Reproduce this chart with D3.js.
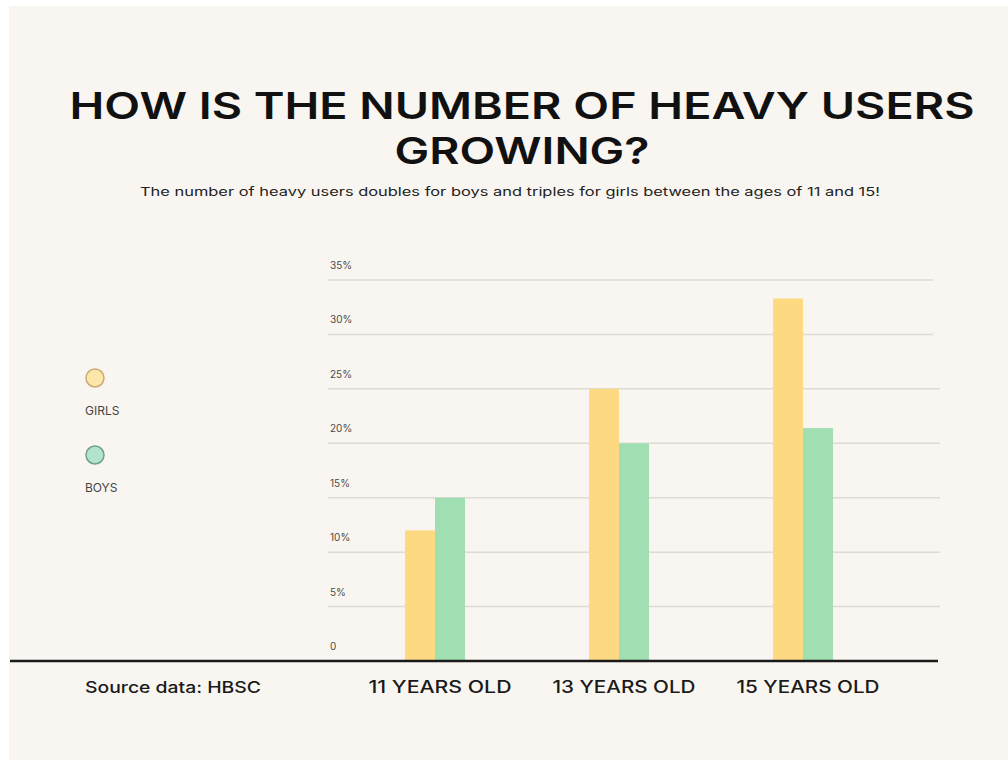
<!DOCTYPE html>
<html>
<head>
<meta charset="utf-8">
<script src="https://cdn.jsdelivr.net/npm/d3@7"></script>
<style>
  body { margin: 0; background: #ffffff; }
  svg text { font-family: "Inter", "Liberation Sans", Arial, sans-serif; }
</style>
</head>
<body>
<div id="chart"></div>
<script>
const width = 1008, height = 760;

// data
const ages = ["11 YEARS OLD", "13 YEARS OLD", "15 YEARS OLD"];
const series = ["GIRLS", "BOYS"];
const girls = [12, 25, 33.3];
const boys = [15, 20, 21.4];
const yTicks = [0, 5, 10, 15, 20, 25, 30, 35];
const yTickLabels = ["0", "5%", "10%", "15%", "20%", "25%", "30%", "35%"];

const colors = { GIRLS: "#fdd982", BOYS: "#a0dfb2" };
const strokes = { GIRLS: "#c9ac74", BOYS: "#6f9e92" };

const svg = d3.select("#chart")
    .append("svg")
    .attr("width", width)
    .attr("height", height);

// beige paper
svg.append("rect")
    .attr("x", 9).attr("y", 6)
    .attr("width", width - 9).attr("height", height - 6)
    .attr("fill", "#f9f6f1");

const y = d3.scaleLinear().domain([0, 35]).range([661, 280]);

const x = d3.scaleBand()
    .domain(ages)
    .range([343, 895])
    .padding(0);

const xInner = d3.scaleBand()
    .domain(series)
    .range([0, 60]);

// gridlines
svg.append("g")
    .selectAll("line")
    .data(yTicks.filter(d => d > 0))
    .enter().append("line")
    .attr("x1", 328)
    .attr("x2", d => d >= 30 ? 933 : 940)
    .attr("y1", d => y(d))
    .attr("y2", d => y(d))
    .attr("stroke", "#dedad4")
    .attr("stroke-width", 1.5);

// tick labels above the lines
svg.append("g")
    .selectAll("text")
    .data(yTicks)
    .enter().append("text")
    .attr("x", 330)
    .attr("y", d => y(d) - 11)
    .attr("font-size", 10)
    .attr("fill", "#4a4a4a")
    .text((d, i) => yTickLabels[i]);

// bars
const rows = ages.map((a, i) => ({ age: a, GIRLS: girls[i], BOYS: boys[i] }));

const groups = svg.append("g")
    .selectAll("g")
    .data(rows)
    .enter().append("g")
    .attr("transform", d => `translate(${x(d.age) + x.bandwidth() / 2 - 30},0)`);

groups.selectAll("rect")
    .data(d => series.map(s => ({ key: s, value: d[s] })))
    .enter().append("rect")
    .attr("x", d => xInner(d.key))
    .attr("width", xInner.bandwidth())
    .attr("y", d => y(d.value))
    .attr("height", d => y(0) - y(d.value))
    .attr("fill", d => colors[d.key]);

// baseline
svg.append("line")
    .attr("x1", 10).attr("x2", 938)
    .attr("y1", y(0)).attr("y2", y(0))
    .attr("stroke", "#1a1a1a")
    .attr("stroke-width", 2.5);

// category labels
svg.append("g")
    .selectAll("text")
    .data(ages)
    .enter().append("text")
    .attr("x", d => x(d) + x.bandwidth() / 2 + 5)
    .attr("y", 693)
    .attr("text-anchor", "middle")
    .attr("font-size", 17)
    .attr("font-weight", 500)
    .attr("fill", "#1a1a1a")
    .attr("textLength", 143)
    .attr("lengthAdjust", "spacingAndGlyphs")
    .text(d => d);

svg.append("text")
    .attr("x", 85).attr("y", 693)
    .attr("font-size", 16)
    .attr("font-weight", 500)
    .attr("fill", "#1a1a1a")
    .attr("textLength", 176)
    .attr("lengthAdjust", "spacingAndGlyphs")
    .text("Source data: HBSC");

// legend
const legendY = { GIRLS: 378, BOYS: 455 };
series.forEach(s => {
    svg.append("circle")
        .attr("cx", 95).attr("cy", legendY[s])
        .attr("r", 9)
        .attr("fill", s === "GIRLS" ? "#fde6aa" : "#b4e3cc")
        .attr("stroke", strokes[s])
        .attr("stroke-width", 1.5);
    svg.append("text")
        .attr("x", 85).attr("y", legendY[s] + 37)
        .attr("font-size", 12)
        .attr("fill", "#444")
        .text(s);
});

// title
svg.append("text")
    .attr("x", 522).attr("y", 119)
    .attr("text-anchor", "middle")
    .attr("font-size", 37)
    .attr("font-weight", 600)
    .attr("fill", "#111")
    .attr("textLength", 905)
    .attr("lengthAdjust", "spacingAndGlyphs")
    .text("HOW IS THE NUMBER OF HEAVY USERS");

svg.append("text")
    .attr("x", 522).attr("y", 164)
    .attr("text-anchor", "middle")
    .attr("font-size", 37)
    .attr("font-weight", 600)
    .attr("fill", "#111")
    .attr("textLength", 255)
    .attr("lengthAdjust", "spacingAndGlyphs")
    .text("GROWING?");

svg.append("text")
    .attr("x", 510).attr("y", 196)
    .attr("text-anchor", "middle")
    .attr("font-size", 11.5)
    .attr("fill", "#222")
    .attr("textLength", 740)
    .attr("lengthAdjust", "spacingAndGlyphs")
    .text("The number of heavy users doubles for boys and triples for girls between the ages of 11 and 15!");
</script>
</body>
</html>
